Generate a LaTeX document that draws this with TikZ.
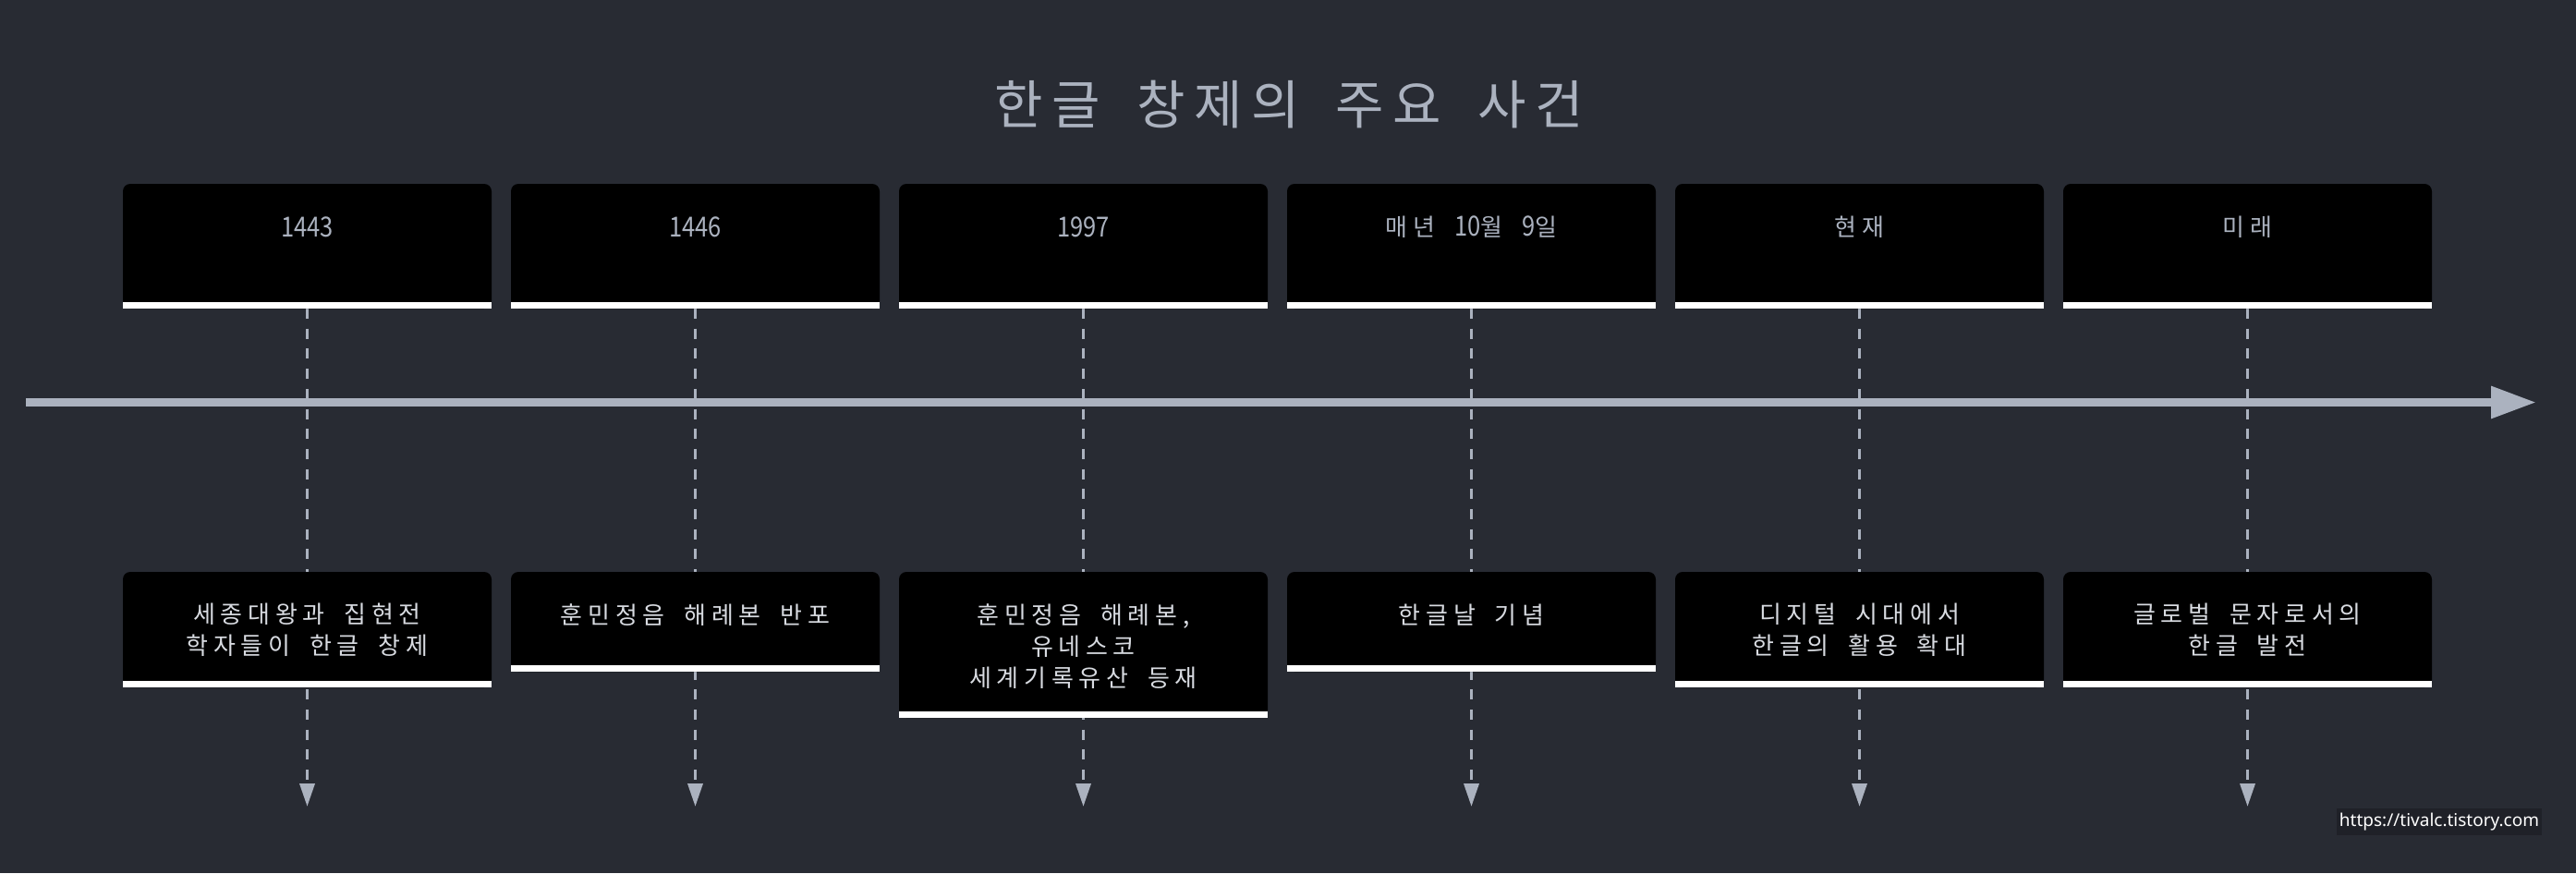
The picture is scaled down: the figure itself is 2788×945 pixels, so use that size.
\documentclass[tikz,border=0pt]{standalone}
\usepackage{fontspec}
\newfontfamily\krbody[LetterSpace=22,WordSpace=1.8]{Noto Sans CJK KR}
\newfontfamily\krnum[FakeStretch=0.85]{Noto Sans CJK KR}
\newfontfamily\krtitle[LetterSpace=16.8,WordSpace=1.75]{Noto Sans CJK KR}
\newfontfamily\wmfont{Noto Sans}
\usetikzlibrary{arrows.meta,backgrounds}
\definecolor{bgc}{HTML}{282B33}
\definecolor{fgc}{HTML}{ABB2BF}
\definecolor{txtc}{HTML}{D8DBE1}
\definecolor{wmbg}{HTML}{1F2128}
\newcommand{\numfont}{\krnum\fontsize{30}{34}\selectfont}
\newcommand{\hgfont}{\krbody\fontsize{26}{34}\selectfont}
\tikzset{
  titletext/.style={text=fgc,font=\krtitle\fontsize{57}{60}\selectfont,inner sep=0pt},
  boxnode/.style={minimum width=399pt,inner sep=0pt,outer sep=0pt},
  yeartext/.style={text=fgc,font=\hgfont,inner sep=0pt},
  eventtext/.style={text=txtc,align=center,font=\hgfont,inner sep=0pt},
  boxfill/.style={fill=black,rounded corners=8pt},
  stripfill/.style={fill=white},
  dashline/.style={draw=fgc,line width=3.5pt,dash pattern=on 11pt off 10.7pt,-{Triangle[length=25pt,width=16pt]}},
  timeline/.style={draw=fgc,line width=9pt,-{Triangle[length=49pt,width=33pt]}},
  wmtext/.style={fill=wmbg,text=white,font=\wmfont\bfseries\fontsize{19}{22}\selectfont,inner xsep=3pt,inner ysep=5pt}
}
\begin{document}
\begin{tikzpicture}[x=1pt,y=-1pt]
\begin{pgfonlayer}{background}
\fill[bgc] (0,0) rectangle (2788,945);
\end{pgfonlayer}
\useasboundingbox (0,0) rectangle (2788,945);

\node[titletext] (title) at (1395,113) {한글 창제의 주요 사건};

% top boxes
\foreach \i in {1,...,6}{
  \pgfmathsetmacro{\cx}{332.5+420*(\i-1)}
  \node[boxnode,minimum height=135pt] (t\i) at (\cx,266.5) {};
}
\node[yeartext] (y1) at ([yshift=-47pt]t1.north) {\numfont 1443};
\node[yeartext] (y2) at ([yshift=-47pt]t2.north) {\numfont 1446};
\node[yeartext] (y3) at ([yshift=-47pt]t3.north) {\numfont 1997};
\node[yeartext] (y4) at ([yshift=-47pt]t4.north) {매년 {\numfont 10}월 {\numfont 9}일};
\node[yeartext] (y5) at ([yshift=-47pt]t5.north) {현재};
\node[yeartext] (y6) at ([yshift=-47pt]t6.north) {미래};

% bottom boxes
\node[boxnode,minimum height=125pt] (b1) at (332.5,681.5) {};
\node[boxnode,minimum height=108pt] (b2) at (752.5,673) {};
\node[boxnode,minimum height=158pt] (b3) at (1172.5,698) {};
\node[boxnode,minimum height=108pt] (b4) at (1592.5,673) {};
\node[boxnode,minimum height=125pt] (b5) at (2012.5,681.5) {};
\node[boxnode,minimum height=125pt] (b6) at (2432.5,681.5) {};

\node[eventtext] (x1) at (332.5,681.5) {세종대왕과 집현전\\학자들이 한글 창제};
\node[eventtext] (x2) at (752.5,666) {훈민정음 해례본 반포};
\node[eventtext] (x3) at (1172.5,700) {훈민정음 해례본,\\유네스코\\세계기록유산 등재};
\node[eventtext] (x4) at (1592.5,666) {한글날 기념};
\node[eventtext] (x5) at (2012.5,681.5) {디지털 시대에서\\한글의 활용 확대};
\node[eventtext] (x6) at (2432.5,681.5) {글로벌 문자로서의\\한글 발전};

\foreach \i in {1,...,6}{
  \pgfmathsetmacro{\cx}{332.5+420*(\i-1)}
  \coordinate (e\i) at (\cx,873);
}
\coordinate (tlstart) at (28,435.5);
\coordinate (tlend) at (2745,435.5);

\node[wmtext] (wm) at (2640,889.5) {https://tivalc.tistory.com};

\begin{pgfonlayer}{background}
\foreach \i in {1,...,6}{
  \draw[dashline] (t\i.south) -- (e\i);
}
\draw[timeline] (tlstart) -- (tlend);
\foreach \n in {t1,t2,t3,t4,t5,t6,b1,b2,b3,b4,b5,b6}{
  \fill[boxfill] (\n.south west) rectangle (\n.north east);
  \fill[black] (\n.south west) rectangle (\n.east);
  \fill[stripfill] (\n.south west) rectangle ([yshift=7pt]\n.south east);
}
\end{pgfonlayer}
\end{tikzpicture}
\end{document}
